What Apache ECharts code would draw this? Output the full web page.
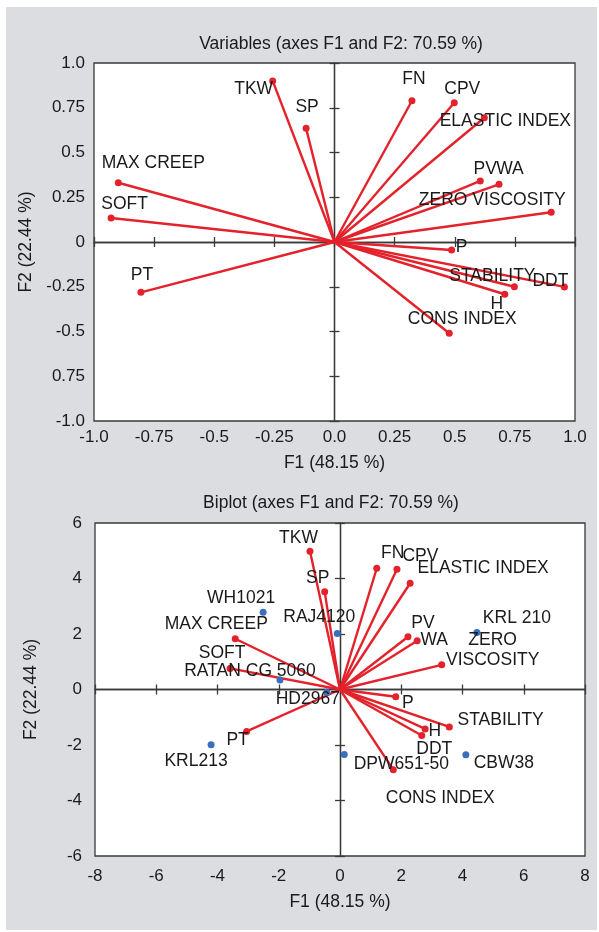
<!DOCTYPE html>
<html>
<head>
<meta charset="utf-8">
<script src="https://cdn.jsdelivr.net/npm/echarts@6/dist/echarts.min.js"></script>
<style>
  html, body { margin: 0; padding: 0; background: #ffffff; }
  #bg { position: absolute; left: 6px; top: 7px; width: 591px; height: 923px; background: #dcdde0; }
  #chart { position: absolute; left: 0; top: 0; width: 599px; height: 932px; }
</style>
</head>
<body>
<div id="bg"></div>
<div id="chart"></div>
<script>
// ---------- data ----------
const varNames = ['TKW', 'SP', 'MAX CREEP', 'SOFT', 'PT', 'FN', 'CPV', 'ELASTIC INDEX', 'PV', 'WA',
  'ZERO VISCOSITY', 'P', 'STABILITY', 'DDT', 'H', 'CONS INDEX'];
// correlation circle (Variables)
const varF1 = [-0.257, -0.118, -0.899, -0.929, -0.805, 0.322, 0.498, 0.623, 0.606, 0.684,
  0.901, 0.487, 0.748, 0.956, 0.708, 0.477];
const varF2 = [0.900, 0.635, 0.331, 0.134, -0.281, 0.789, 0.778, 0.694, 0.341, 0.322,
  0.166, -0.045, -0.250, -0.251, -0.292, -0.510];
// biplot vectors
const biVarF1 = [-0.98, -0.50, -3.42, -3.59, -3.05, 1.20, 1.86, 2.29, 2.22, 2.52,
  3.32, 1.82, 2.78, 3.57, 2.67, 1.74];
const biVarF2 = [4.98, 3.52, 1.83, 0.76, -1.51, 4.37, 4.33, 3.83, 1.90, 1.76,
  0.89, -0.26, -1.42, -1.35, -1.66, -2.89];
// observations
const obsNames = ['WH1021', 'RAJ4120', 'KRL 210', 'RATAN CG 5060', 'HD2967', 'KRL213', 'DPW651-50', 'CBW38'];
const obsF1 = [-2.51, -0.09, 4.47, -1.96, -0.43, -4.21, 0.14, 4.11];
const obsF2 = [2.78, 2.02, 2.05, 0.34, -0.10, -1.99, -2.34, -2.35];
// tick labels
const topXTicks = ['-1.0', '-0.75', '-0.5', '-0.25', '0.0', '0.25', '0.5', '0.75', '1.0'];
const topYTicks = ['-1.0', '0.75', '-0.5', '-0.25', '0', '0.25', '0.5', '0.75', '1.0'];
const botXTicks = ['-8', '-6', '-4', '-2', '0', '2', '4', '6', '8'];
const botYTicks = ['-6', '-4', '-2', '0', '2', '4', '6'];

// ---------- layout (label placement, px offsets of label centre from point) ----------
const topLabelOffset = {
  'TKW': [-19, 8], 'SP': [1, -21], 'MAX CREEP': [35, -20], 'SOFT': [13.5, -14], 'PT': [1, -17],
  'FN': [2, -22], 'CPV': [8, -14], 'ELASTIC INDEX': [21, 3], 'PV': [5, -12], 'WA': [11, -15],
  'ZERO VISCOSITY': [-59, -12], 'P': [10, -3], 'STABILITY': [-22, -11], 'DDT': [-14, -6],
  'H': [-8, 10], 'CONS INDEX': [13, -14]
};
const botLabelOffset = {
  'TKW': [-11.5, -13], 'SP': [-7, -14], 'MAX CREEP': [-19, -15], 'SOFT': [-8, -15], 'PT': [-9, 9],
  'FN': [16, -15], 'CPV': [23.5, -13.5], 'ELASTIC INDEX': [73, -15], 'PV': [15, -14], 'WA': [17, 0],
  'ZERO VISCOSITY': [51, -15], 'P': [12, 6], 'STABILITY': [75.5, -9], 'DDT': [-15, 22],
  'H': [13, -4], 'CONS INDEX': [47, 28],
  'WH1021': [-22, -14], 'RAJ4120': [-18, -16], 'KRL 210': [40, -14], 'RATAN CG 5060': [-30, -9],
  'HD2967': [-19, 7], 'KRL213': [-15, 16], 'DPW651-50': [57, 10], 'CBW38': [38, 8]
};
const botLabelText = { 'ZERO VISCOSITY': 'ZERO\nVISCOSITY' };

const FONT = "'Liberation Sans', Arial, sans-serif";
const LBL = 17.5;
const TICK = 17;
const RED = '#e3222b';
const BLUE = '#3a6ebe';
const TXT = '#1a1a1a';
const AXC = '#3a3a3a';

function tickFmt(arr, min, step) {
  return function (v) {
    const i = Math.round((v - min) / step);
    return arr[i] !== undefined ? arr[i] : '';
  };
}

function axesFor(dim, grid, min, max, step, ticks, opts) {
  const common = { type: 'value', gridIndex: grid, min: min, max: max, interval: step,
    splitLine: { show: false } };
  const pos = dim === 'x' ? 'bottom' : 'left';
  const labelAxis = Object.assign({}, common, {
    position: pos,
    axisLine: { show: false, onZero: false },
    axisTick: { show: false },
    axisLabel: { show: true, formatter: tickFmt(ticks, min, step), fontFamily: FONT,
      fontSize: TICK, color: TXT, margin: opts.margin },
    name: opts.name, nameLocation: 'middle', nameGap: opts.nameGap,
    nameTextStyle: { fontFamily: FONT, fontSize: LBL, color: TXT }
  });
  const zeroOut = Object.assign({}, common, {
    position: pos,
    axisLine: { show: true, onZero: true, lineStyle: { color: AXC, width: 1.3 } },
    axisTick: { show: true, inside: false, length: 5, lineStyle: { color: AXC, width: 1.3 } },
    axisLabel: { show: false }
  });
  const zeroIn = Object.assign({}, common, {
    position: pos,
    axisLine: { show: true, onZero: true, lineStyle: { color: AXC, width: 1.3 } },
    axisTick: { show: true, inside: true, length: 5, lineStyle: { color: AXC, width: 1.3 } },
    axisLabel: { show: false }
  });
  return [labelAxis, zeroOut, zeroIn];
}

function vectorLines(f1, f2, xi, yi) {
  return {
    type: 'lines', coordinateSystem: 'cartesian2d', xAxisIndex: xi, yAxisIndex: yi,
    polyline: false, silent: true, z: 3,
    lineStyle: { color: RED, width: 2.4, opacity: 1 },
    data: f1.map((x, i) => ({ coords: [[0, 0], [x, f2[i]]] }))
  };
}

function pointSeries(names, f1, f2, xi, yi, color, offsets, textMap) {
  return {
    type: 'scatter', xAxisIndex: xi, yAxisIndex: yi, symbol: 'circle', symbolSize: 7, z: 4,
    itemStyle: { color: color, opacity: 1 },
    label: { show: true, position: 'inside', fontFamily: FONT, fontSize: LBL, color: TXT,
      align: 'center', verticalAlign: 'middle', lineHeight: 20,
      formatter: function (p) { return (textMap && textMap[p.name]) ? textMap[p.name] : p.name; } },
    labelLayout: function (params) {
      const o = offsets[names[params.dataIndex]] || [0, 0];
      return { dx: o[0], dy: o[1], hideOverlap: false };
    },
    data: names.map((n, i) => ({ name: n, value: [f1[i], f2[i]] }))
  };
}

const topGrid = { left: 94, top: 63, width: 481, height: 358, show: true, backgroundColor: '#ffffff',
  borderColor: AXC, borderWidth: 1.3 };
const botGrid = { left: 95, top: 523, width: 490, height: 333, show: true, backgroundColor: '#ffffff',
  borderColor: AXC, borderWidth: 1.3 };

const xAxes = [].concat(
  axesFor('x', 0, -1, 1, 0.25, topXTicks, { margin: 8, name: 'F1 (48.15 %)', nameGap: 33 }),
  axesFor('x', 1, -8, 8, 2, botXTicks, { margin: 12, name: 'F1 (48.15 %)', nameGap: 37 })
);
const yAxes = [].concat(
  axesFor('y', 0, -1, 1, 0.25, topYTicks, { margin: 9, name: 'F2 (22.44 %)', nameGap: 55 }),
  axesFor('y', 1, -6, 6, 2, botYTicks, { margin: 13, name: 'F2 (22.44 %)', nameGap: 55 })
);

const option = {
  animation: false,
  backgroundColor: 'transparent',
  grid: [topGrid, botGrid],
  xAxis: xAxes,
  yAxis: yAxes,
  graphic: [
    { type: 'text', x: 341, y: 44, style: { text: 'Variables (axes F1 and F2: 70.59 %)', fontFamily: FONT,
      fontSize: LBL, fill: TXT, align: 'center', verticalAlign: 'middle' } },
    { type: 'text', x: 331, y: 503, style: { text: 'Biplot (axes F1 and F2: 70.59 %)', fontFamily: FONT,
      fontSize: LBL, fill: TXT, align: 'center', verticalAlign: 'middle' } }
  ],
  series: [
    vectorLines(varF1, varF2, 0, 0),
    pointSeries(varNames, varF1, varF2, 0, 0, RED, topLabelOffset, null),
    vectorLines(biVarF1, biVarF2, 3, 3),
    pointSeries(varNames, biVarF1, biVarF2, 3, 3, RED, botLabelOffset, botLabelText),
    pointSeries(obsNames, obsF1, obsF2, 3, 3, BLUE, botLabelOffset, null)
  ]
};

const chart = echarts.init(document.getElementById('chart'), null, { renderer: 'canvas' });
chart.setOption(option);
</script>
</body>
</html>
